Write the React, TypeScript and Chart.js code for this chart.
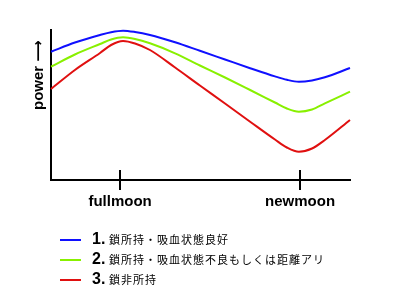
import React, { useEffect, useRef } from "react";
import { Chart, registerables } from "chart.js";

Chart.register(...registerables);

// phase positions (0 = left edge of plot, 100 = right edge)
const phaseX = [0, 8, 16.4, 20.1, 24.1, 28.1, 33.1, 41.5, 49.8, 58.2, 66.6, 74.9, 78.9, 82.9, 87.3, 91.6, 100];
const series1 = [128.3, 137.5, 145, 147.8, 149.3, 148, 145, 137.7, 129.2, 120.5, 111.8, 103.6, 100.2, 98.3, 99.6, 102.7, 112];
const series2 = [113.3, 125.5, 136, 140.5, 142.7, 141, 136.7, 126.7, 114.5, 102.5, 90, 77.5, 71.5, 68.3, 70.5, 76.7, 88.3];
const series3 = [91, 110, 127, 135, 139, 136.5, 130, 112.5, 94.5, 76.5, 58.3, 40.5, 32.5, 28.3, 31.5, 40, 60];

const seriesNames = [
  "鎖所持・吸血状態良好",
  "鎖所持・吸血状態不良もしくは距離アリ",
  "鎖非所持",
];
const seriesColors = ["#1010ff", "#88f000", "#e01010"];

const tickValues = [23.1, 83.3];
const tickLabels = ["fullmoon", "newmoon"];
const yTitle = "power ⟶";

const LATIN = "'Liberation Sans', Arial, 'DejaVu Sans', sans-serif";
const CJK = "'Noto Sans CJK JP', sans-serif";

const decorPlugin = {
  id: "decor",
  afterDraw(chart: any) {
    const ctx = chart.ctx as CanvasRenderingContext2D;
    const xs = chart.scales.x;
    const area = chart.chartArea;
    ctx.save();
    // tick marks crossing the x axis
    ctx.strokeStyle = "#000";
    ctx.lineWidth = 2;
    tickValues.forEach((v) => {
      const px = Math.round(xs.getPixelForValue(v));
      ctx.beginPath();
      ctx.moveTo(px, area.bottom - 10);
      ctx.lineTo(px, area.bottom + 10);
      ctx.stroke();
    });
    // y title
    ctx.save();
    ctx.translate(39, 110);
    ctx.rotate(-Math.PI / 2);
    ctx.fillStyle = "#000";
    ctx.font = `bold 15px ${LATIN}`;
    ctx.textAlign = "left";
    ctx.textBaseline = "middle";
    ctx.fillText(yTitle, 0, 0);
    ctx.restore();
    // legend
    chart.data.datasets.forEach((ds: any, i: number) => {
      const y = 240 + i * 20;
      ctx.strokeStyle = ds.borderColor;
      ctx.lineWidth = 2;
      ctx.beginPath();
      ctx.moveTo(60, y);
      ctx.lineTo(81, y);
      ctx.stroke();
      ctx.fillStyle = "#000";
      ctx.textBaseline = "middle";
      ctx.textAlign = "left";
      ctx.font = `bold 16px ${LATIN}`;
      ctx.fillText(`${i + 1}.`, 92, y);
      ctx.font = `11px ${CJK}`;
      (ctx as any).letterSpacing = "1px";
      ctx.fillText(ds.label, 109, y);
      (ctx as any).letterSpacing = "0px";
    });
    ctx.restore();
  },
};

export default function App() {
  const ref = useRef<HTMLCanvasElement>(null);
  useEffect(() => {
    if (!ref.current) return;
    const mk = (vals: number[]) => vals.map((v, i) => ({ x: phaseX[i], y: v }));
    const chart = new Chart(ref.current, {
      type: "line",
      data: {
        datasets: [series1, series2, series3].map((s, i) => ({
          label: seriesNames[i],
          data: mk(s),
          borderColor: seriesColors[i],
          borderWidth: 2,
          pointRadius: 0,
          fill: false,
          cubicInterpolationMode: "monotone" as const,
          clip: false as any,
        })),
      },
      options: {
        animation: false,
        responsive: false,
        devicePixelRatio: 1,
        layout: { padding: { top: 30, right: 50, left: 0, bottom: 0 } },
        plugins: { legend: { display: false }, tooltip: { enabled: false } },
        scales: {
          x: {
            type: "linear",
            min: 0,
            max: 100,
            grid: { display: false, drawTicks: false },
            border: { display: true, color: "#000", width: 2 },
            afterBuildTicks: (s: any) => {
              s.ticks = tickValues.map((v) => ({ value: v }));
            },
            afterFit: (s: any) => {
              s.height = 120;
            },
            ticks: {
              padding: 13,
              color: "#000",
              font: { family: LATIN, size: 15, weight: "bold" },
              maxRotation: 0,
              autoSkip: false,
              callback: (v: any) => {
                const i = tickValues.indexOf(Number(v));
                return i >= 0 ? tickLabels[i] : "";
              },
            },
          },
          y: {
            type: "linear",
            min: 0,
            max: 150,
            grid: { display: false, drawTicks: false },
            border: { display: true, color: "#000", width: 2 },
            ticks: { display: false },
            afterFit: (s: any) => {
              s.width = 51;
            },
          },
        },
      },
      plugins: [decorPlugin],
    });
    return () => chart.destroy();
  }, []);
  return (
    <div style={{ position: "absolute", left: 0, top: 0, width: 400, height: 300, background: "#fff" }}>
      <canvas ref={ref} width={400} height={300} />
    </div>
  );
}
